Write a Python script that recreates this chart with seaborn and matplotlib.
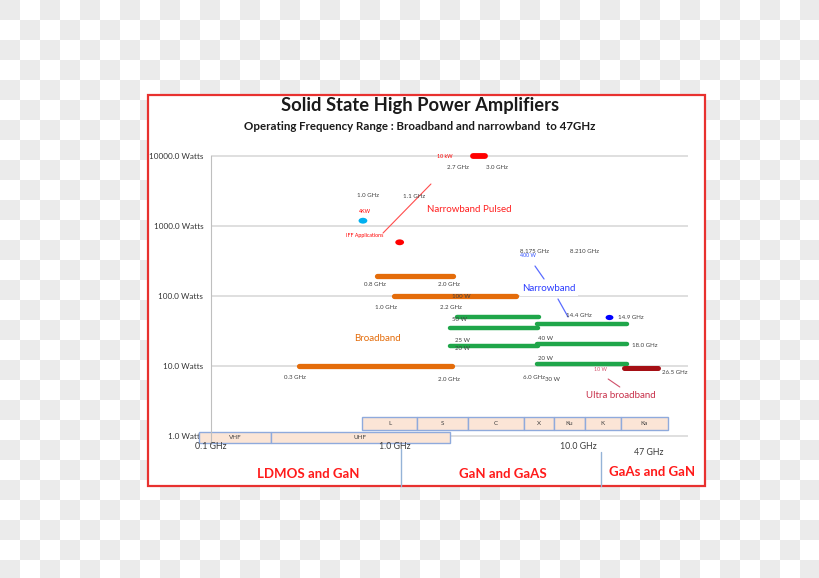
import numpy as np
import pandas as pd
import matplotlib.pyplot as plt
import seaborn as sns
from matplotlib.patches import Rectangle
from matplotlib.path import Path
from matplotlib.transforms import Affine2D

sns.set_style('white')
plt.rcParams['font.family'] = ['Lato', 'DejaVu Sans']

# broadband amplifiers (GHz, Watts)
broad_lo = [0.8, 1.0, 0.3]
broad_hi = [2.08, 4.6, 2.05]
broad_w = [195, 100, 10]

# GaN / GaAs broadband (green)
green_lo = [2.19, 2.0, 6.0, 2.0, 6.0, 6.0]
green_hi = [6.1, 6.05, 18.5, 6.05, 18.5, 18.5]
green_w = [50, 35, 40, 19.5, 20.5, 10.7]

# ultra broadband
ultra_lo = [17.9]
ultra_hi = [27.3]
ultra_w = [9.45]

# narrowband pulsed
pulsed_f = [0.673, 1.067]
pulsed_w = [1190, 585]
pulsed_bar_lo = [2.67]
pulsed_bar_hi = [3.11]
pulsed_bar_w = [10000]

# narrowband CW
narrow_f = [14.8]
narrow_w = [50]

# frequency band boxes
bands_top = ['L', 'S', 'C', 'X', 'Ku', 'K', 'Ka']
bands_top_edges = [0.665, 1.327, 2.515, 5.08, 7.40, 10.9, 17.1, 30.9]
bands_low = ['VHF', 'UHF']
bands_low_edges = [0.086, 0.212, 2.006]

y_ticks = [1, 10, 100, 1000, 10000]
y_labels = ['1.0 Watts', '10.0 Watts', '100.0 Watts', '1000.0 Watts', '10000.0 Watts']
x_ticks = [0.1, 1.0, 10.0]
x_labels = ['0.1 GHz', '1.0 GHz', '10.0 GHz']

fig = plt.figure(figsize=(8.2, 5.78), dpi=100)

# transparent-image checkerboard backdrop
bg = fig.add_axes([0, 0, 1, 1], zorder=-2)
ii, jj = np.mgrid[0:29, 0:41]
shade = np.where((ii + jj) % 2 == 0, 0.925, 1.0)
bg.imshow(np.dstack([shade] * 3), extent=[0, 820, 580, 0], interpolation='nearest', aspect='auto')
bg.set_xlim(0, 820)
bg.set_ylim(578, 0)
bg.axis('off')

# slide frame
frame = Rectangle((148 / 820, 1 - 486 / 578), 557 / 820, 391 / 578, transform=fig.transFigure,
                  facecolor='white', edgecolor='#e8312f', lw=1.6, zorder=-1)
fig.patches.append(frame)

fig.text(420 / 820, 1 - 105 / 578, 'Solid State High Power Amplifiers', ha='center', va='center',
         fontsize=13.2, fontweight='bold', color='#1a1a1a')
fig.text(420 / 820, 1 - 126 / 578, 'Operating Frequency Range : Broadband and narrowband  to 47GHz',
         ha='center', va='center', fontsize=8.3, fontweight='bold', color='#1a1a1a')

ax = fig.add_axes([211 / 820, 1 - 450 / 578, 477 / 820, 301 / 578])
ax.set_facecolor('none')
ax.set_xscale('log')
ax.set_yscale('log')
ax.set_xlim(0.1, 0.1 * 10 ** (477 / 183.5))
ax.set_ylim(10 ** -0.2, 10 ** 4.1)

for s in ['top', 'right', 'bottom']:
    ax.spines[s].set_visible(False)
ax.spines['left'].set_color('#bfbfbf')
ax.spines['left'].set_bounds(0.78, 10000)
ax.set_yticks(y_ticks)
ax.set_yticklabels(y_labels)
ax.yaxis.set_minor_locator(plt.NullLocator())
ax.xaxis.set_minor_locator(plt.NullLocator())
ax.set_xticks([])
ax.tick_params(axis='y', length=4, color='#bfbfbf', labelsize=5.9, labelcolor='#333333', pad=1.5)
for t in y_ticks:
    ax.axhline(t, color='#d9d9d9', lw=1.2, zorder=0)
ax.set_xlabel('')
ax.set_ylabel('')

for t, lab in zip(x_ticks, x_labels):
    ax.text(t, 0.697, lab, ha='center', va='center', fontsize=6.3, color='#3a3a3a', clip_on=False)
ax.text(24.4, 0.572, '47 GHz', ha='center', va='center', fontsize=6.3, color='#3a3a3a', clip_on=False)

# frequency band boxes
ax.barh([1.22] * len(bands_top), np.diff(bands_top_edges), height=0.65, left=bands_top_edges[:-1],
        align='edge', color='#fbe5d6', edgecolor='#8faadc', lw=1, clip_on=False, zorder=2)
for i, b in enumerate(bands_top):
    ax.text(np.sqrt(bands_top_edges[i] * bands_top_edges[i + 1]), 1.5, b, ha='center', va='center',
            fontsize=4.5, color='#404040', zorder=3)
ax.barh([0.794] * len(bands_low), np.diff(bands_low_edges), height=0.346, left=bands_low_edges[:-1],
        align='edge', color='#fbe5d6', edgecolor='#8faadc', lw=1, clip_on=False, zorder=2)
for i, b in enumerate(bands_low):
    ax.text(np.sqrt(bands_low_edges[i] * bands_low_edges[i + 1]), 0.95, b, ha='center', va='center',
            fontsize=4.5, color='#404040', zorder=3, clip_on=False)


def segments(lo, hi, w):
    rows = []
    for k, (a, b, p) in enumerate(zip(lo, hi, w)):
        rows.append((k, a, p))
        rows.append((k, b, p))
    return pd.DataFrame(rows, columns=['seg', 'freq', 'watts'])


sns.lineplot(data=segments(broad_lo, broad_hi, broad_w), x='freq', y='watts', units='seg',
             estimator=None, color='#e46c0a', lw=3.8, solid_capstyle='round', ax=ax, zorder=4)
sns.lineplot(data=segments(green_lo, green_hi, green_w), x='freq', y='watts', units='seg',
             estimator=None, color='#1fa64a', lw=3.2, solid_capstyle='round', ax=ax, zorder=4)
sns.lineplot(data=segments(ultra_lo, ultra_hi, ultra_w), x='freq', y='watts', units='seg',
             estimator=None, color='#a50f15', lw=3.6, solid_capstyle='round', ax=ax, zorder=4)
sns.lineplot(data=segments(pulsed_bar_lo, pulsed_bar_hi, pulsed_bar_w), x='freq', y='watts', units='seg',
             estimator=None, color='#ff0000', lw=4.2, solid_capstyle='round', ax=ax, zorder=4)
ax.set_xlabel('')
ax.set_ylabel('')

oval = Path.unit_circle().transformed(Affine2D().scale(1.5, 1.0))
sns.scatterplot(x=pulsed_f, y=pulsed_w, hue=['4KW', 'IFF'], palette=['#00b0f0', '#ff0000'],
                marker=oval, s=40, linewidth=0, legend=False, ax=ax, zorder=5)
sns.scatterplot(x=narrow_f, y=narrow_w, color='#0000ff', marker=oval, s=32, linewidth=0,
                legend=False, ax=ax, zorder=5)

small = dict(fontsize=4.4, color='#404040', ha='center', va='center')
tiny_red = dict(fontsize=3.8, color='#ff0000', ha='center', va='center')
notes = [(0.783, 148, '0.8 GHz'), (1.98, 148, '2.0 GHz'), (0.899, 67.4, '1.0 GHz'),
         (2.03, 67.4, '2.2 GHz'), (0.287, 6.74, '0.3 GHz'), (1.98, 6.31, '2.0 GHz'),
         (0.717, 2683, '1.0 GHz'), (1.277, 2596, '1.1 GHz'), (2.22, 6740, '2.7 GHz'),
         (3.62, 6740, '3.0 GHz'), (5.76, 439, '8.175 GHz'), (10.9, 439, '8.210 GHz'),
         (10.1, 51.8, '14.4 GHz'), (19.4, 50, '14.9 GHz'), (2.25, 46.9, '50 W'),
         (2.36, 22.8, '25 W'), (2.36, 17.5, '20 W'), (6.69, 25.1, '40 W'), (23.2, 19.95, '18.0 GHz'),
         (6.69, 13, '20 W'), (33.8, 8.2, '26.5 GHz'), (5.76, 6.96, '6.0 GHz'), (7.22, 6.52, '30 W'),
         (2.3, 100, '100 W')]
for f, w, lab in notes:
    ax.text(f, w, lab, zorder=6, **small)
ax.text(0.691, 1585, '4KW', **tiny_red)
ax.text(0.691, 743, 'IFF Applications', **tiny_red)
ax.text(1.88, 9680, '10 kW', **tiny_red)
ax.text(13.3, 9.06, '10 W', fontsize=3.8, color='#d0506a', ha='center', va='center', zorder=6)
ax.text(5.34, 373, '400 W', fontsize=3.8, color='#3050ff', ha='center', va='center')

ax.plot([0.866, 1.58], [794, 3981], color='#ff4d4d', lw=0.8)
ax.text(2.55, 1693, 'Narrowband Pulsed', fontsize=7, color='#ff2020', ha='center', va='center')

ax.plot([5.83, 6.53], [268, 175], color='#5a6cff', lw=0.9)
ax.plot([7.78, 8.83], [90.6, 50.1], color='#5a6cff', lw=0.9)
ax.text(6.95, 126, 'Narrowband', fontsize=7, color='#2a3cff', ha='center', va='center',
        bbox=dict(facecolor='white', edgecolor='none', pad=1.5))

ax.plot([14.6, 16.9], [6.52, 5.01], color='#d0506a', lw=0.8)
ax.text(17.1, 3.73, 'Ultra broadband', fontsize=7, color='#c8304a', ha='center', va='center')
ax.text(0.803, 25.1, 'Broadband', fontsize=7, color='#e46c0a', ha='center', va='center')

# technology separators below the axis
ax.plot([1.08, 1.08], [0.697 * 0.93, 0.193], color='#95b3d7', lw=1, clip_on=False)
ax.plot([13.3, 13.3], [0.59, 0.193], color='#95b3d7', lw=1, clip_on=False)

fig.text(308 / 820, 1 - 474 / 578, 'LDMOS and GaN', ha='center', va='center', fontsize=9.5,
         fontweight='bold', color='#ff1a1a')
fig.text(503 / 820, 1 - 474 / 578, 'GaN and GaAS', ha='center', va='center', fontsize=9.5,
         fontweight='bold', color='#ff1a1a')
fig.text(652 / 820, 1 - 472 / 578, 'GaAs and GaN', ha='center', va='center', fontsize=9.5,
         fontweight='bold', color='#ff1a1a')

fig.savefig('out.png', dpi=100)
